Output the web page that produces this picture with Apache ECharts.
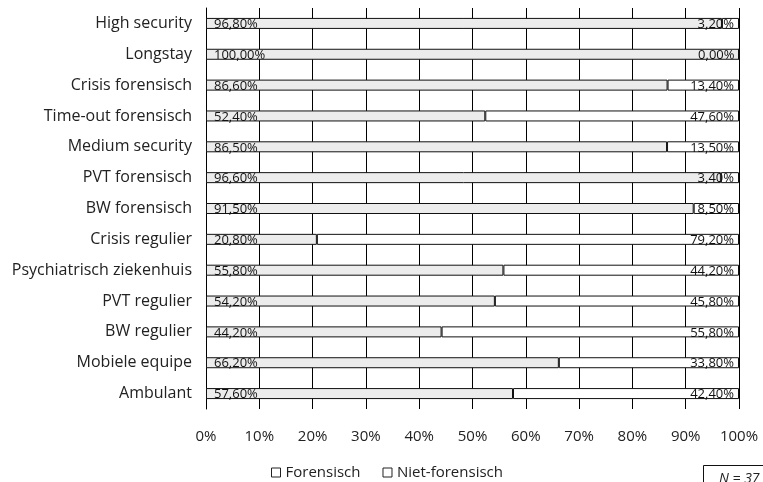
<!DOCTYPE html>
<html>
<head>
<meta charset="utf-8">
<script src="https://cdn.jsdelivr.net/npm/echarts@6/dist/echarts.min.js"></script>
<style>
html,body{margin:0;padding:0;background:#fff;}
#chart{width:763px;height:482px;}
</style>
</head>
<body>
<div id="chart"></div>
<script>
const categories = ['High security','Longstay','Crisis forensisch','Time-out forensisch','Medium security','PVT forensisch','BW forensisch','Crisis regulier','Psychiatrisch ziekenhuis','PVT regulier','BW regulier','Mobiele equipe','Ambulant'];
const forensisch = [96.8,100,86.6,52.4,86.5,96.6,91.5,20.8,55.8,54.2,44.2,66.2,57.6];
const nietForensisch = [3.2,0,13.4,47.6,13.5,3.4,8.5,79.2,44.2,45.8,55.8,33.8,42.4];
const seriesNames = ['Forensisch','Niet-forensisch'];
const tickValues = [0,10,20,30,40,50,60,70,80,90,100];

const FONT = 'Open Sans';
const fmt = v => v.toFixed(2).replace('.', ',') + '%';

const chart = echarts.init(document.getElementById('chart'), null, {renderer:'canvas'});
chart.setOption({
  animation:false,
  backgroundColor:'#fff',
  textStyle:{fontFamily:FONT},
  grid:{left:206,right:24,top:8,bottom:73,containLabel:false},
  legend:{
    data:seriesNames,
    left:266, top:460,
    itemWidth:9, itemHeight:9, itemGap:22,
    icon:'rect',
    textStyle:{fontFamily:FONT,fontSize:15,color:'#222'},
    itemStyle:{borderColor:'#222',borderWidth:1,color:'#fff'}
  },
  xAxis:{
    type:'value', min:0, max:100, interval:10,
    axisLine:{show:false}, axisTick:{show:false},
    splitLine:{show:true,lineStyle:{color:'#000',width:1,type:'solid',opacity:1}},
    axisLabel:{formatter:v=>tickValues.includes(v)?v+'%':'',fontFamily:FONT,fontSize:15,color:'#222',margin:20}
  },
  yAxis:{
    type:'category', data:categories, inverse:true,
    axisLine:{show:true,lineStyle:{color:'#000',width:1}},
    axisTick:{show:false},
    splitLine:{show:false},
    axisLabel:{fontFamily:FONT,fontSize:16,color:'#222',margin:14}
  },
  series:[
    {
      name:seriesNames[0], type:'bar', stack:'total', data:forensisch, barWidth:11,
      itemStyle:{color:'#ececec',borderColor:'#111',borderWidth:1},
      label:{show:true,position:'insideLeft',distance:8,offset:[0,1],formatter:p=>fmt(p.value),fontFamily:FONT,fontSize:13,color:'#111'}
    },
    {
      name:seriesNames[1], type:'bar', stack:'total', data:nietForensisch, barWidth:11,
      itemStyle:{color:'#fff',borderColor:'#111',borderWidth:1},
      label:{show:true,position:'insideRight',distance:5,offset:[0,1],formatter:p=>fmt(p.value),fontFamily:FONT,fontSize:13,color:'#111'}
    }
  ],
  graphic:[
    {type:'rect',left:703,top:465,shape:{width:80,height:30},style:{fill:'#fff',stroke:'#111',lineWidth:1}},
    {type:'text',left:719,top:472,style:{text:'N = 37',font:'italic 14px '+FONT,fill:'#222'}}
  ]
});
</script>
</body>
</html>
